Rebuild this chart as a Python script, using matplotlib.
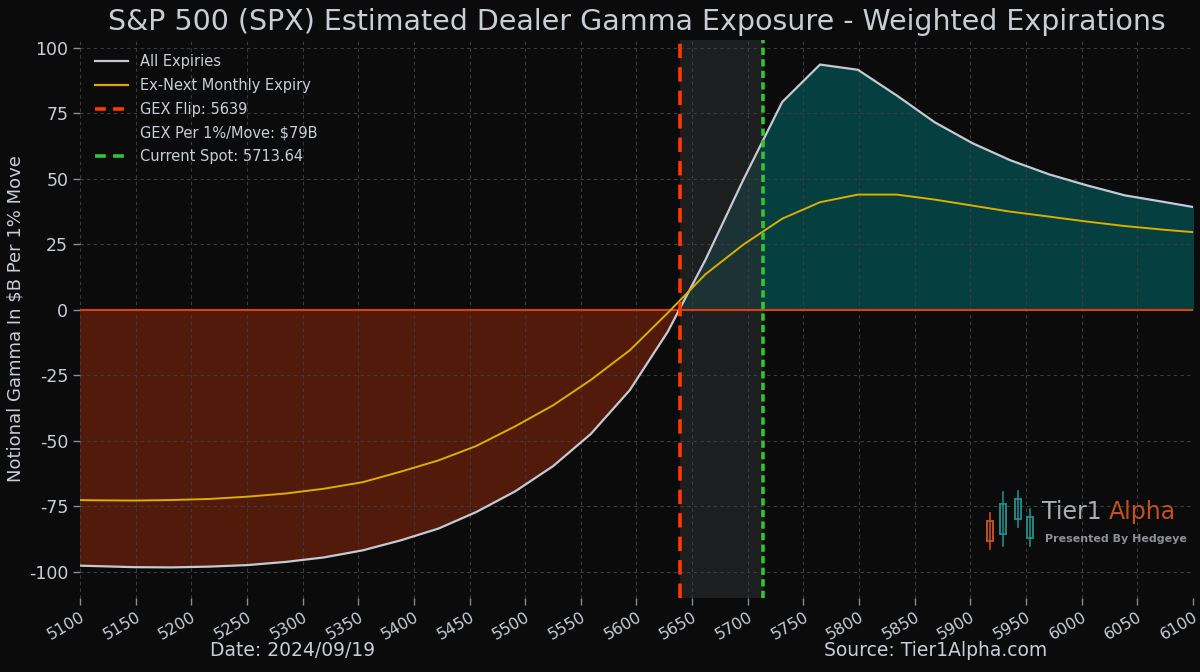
import numpy as np
import matplotlib
matplotlib.use("Agg")
import matplotlib.pyplot as plt
from matplotlib.lines import Line2D
from matplotlib.patches import Rectangle

# strikes and gamma values ($B per 1% move)
strikes = [5079, 5114, 5148, 5182, 5216, 5251, 5285, 5319, 5354, 5388,
           5422, 5456, 5491, 5525, 5559, 5594, 5628, 5662, 5696, 5731,
           5765, 5799, 5834, 5868, 5902, 5936, 5971, 6005, 6039, 6074, 6108]
all_expiries = [-97.4, -97.8, -98.2, -98.3, -98.0, -97.4, -96.2, -94.5, -91.8, -88.0,
                -83.5, -77.2, -69.3, -59.7, -47.4, -30.7, -8.5, 19.0, 49.5, 79.2,
                93.5, 91.5, 81.7, 71.5, 63.5, 57.0, 51.6, 47.4, 43.6, 41.1, 38.6]
ex_next_monthly = [-72.5, -72.7, -72.8, -72.6, -72.2, -71.3, -70.1, -68.3, -65.8, -61.8,
                   -57.5, -52.0, -44.5, -36.5, -26.8, -15.5, -1.3, 13.5, 24.8, 34.7,
                   41.0, 43.9, 43.9, 42.0, 39.7, 37.4, 35.5, 33.6, 31.9, 30.5, 29.3]

gex_flip = 5639
spot = 5713.64
gex_per_move = "$79B"
date_str = "2024/09/19"

x_ticks = list(range(5100, 6101, 50))
y_ticks = [-100, -75, -50, -25, 0, 25, 50, 75, 100]

bg = "#0b0b0b"
txt = "#c9cdd6"

plt.rcParams['axes.unicode_minus'] = False
plt.rcParams['font.family'] = ['DejaVu Sans']

fig = plt.figure(figsize=(12, 6.72), dpi=100, facecolor=bg)
ax = fig.add_axes([0.0667, 0.110, 0.9273, 0.831])
ax.set_facecolor(bg)

x = np.array(strikes, dtype=float)
y = np.array(all_expiries)

# fills under the all-expiries curve
ax.fill_between(x, 0, y, where=y < 0, interpolate=True, color="#521a0a", lw=0, zorder=1)
ax.fill_between(x, 0, y, where=y > 0, interpolate=True, color="#063f40", lw=0, zorder=1)

# zone between the flip and spot
ax.axvspan(gex_flip, spot, color="#2a2b2f", alpha=0.6, lw=0, zorder=1.5)

ax.axhline(0, color="#d9400f", lw=1.5, zorder=3)
ax.plot(x, y, color="#c4c9d2", lw=1.6, zorder=4)
ax.plot(x, ex_next_monthly, color="#dcae00", lw=1.4, zorder=4)
ax.axvline(gex_flip, color="#ff3a00", lw=2.6, ls=(0, (4, 2.5)), zorder=5)
ax.axvline(spot, color="#33c433", lw=2.6, ls=(0, (2, 1.2)), zorder=5)

ax.set_xlim(5100, 6100)
ax.set_ylim(-110, 103)
ax.set_xticks(x_ticks)
ax.set_yticks(y_ticks)
ax.set_xticklabels([str(t) for t in x_ticks], rotation=30, ha="right",
                   rotation_mode="anchor", fontsize=11.5, color=txt)
ax.set_yticklabels([str(t) for t in y_ticks], fontsize=12.5, color=txt)
ax.tick_params(axis="both", colors="#8a8d94", labelcolor=txt, length=5, width=1)
ax.tick_params(axis="x", pad=3)
for s in ax.spines.values():
    s.set_visible(False)

ax.set_axisbelow(False)
ax.grid(True, ls=(0, (3, 3)), color="#3c3c3c", lw=0.8, zorder=2)

ax.set_ylabel("Notional Gamma In $B Per 1% Move", fontsize=13, color=txt, labelpad=3)
ax.set_title("S&P 500 (SPX) Estimated Dealer Gamma Exposure - Weighted Expirations",
             fontsize=20.5, color=txt, pad=7)

handles = [
    Line2D([], [], color="#c4c9d2", lw=1.6),
    Line2D([], [], color="#e8a010", lw=1.6),
    Line2D([], [], color="#ff3a00", lw=2.6, ls=(0, (3, 2))),
    Line2D([], [], color="none"),
    Line2D([], [], color="#33c433", lw=2.6, ls=(0, (3, 2))),
]
labels = ["All Expiries", "Ex-Next Monthly Expiry", f"GEX Flip: {gex_flip}",
          f"GEX Per 1%/Move: {gex_per_move}", f"Current Spot: {spot:.2f}"]
leg = ax.legend(handles, labels, loc="upper left", frameon=False, fontsize=10.5,
                labelcolor=txt, handlelength=2.3, labelspacing=0.6,
                borderaxespad=0.6)
leg.set_zorder(6)

fig.text(0.244, 0.024, f"Date: {date_str}", fontsize=13.5, color=txt, ha="center")
fig.text(0.780, 0.024, "Source: Tier1Alpha.com", fontsize=13.5, color=txt, ha="center")

# logo
fig.text(0.868, 0.227, "Tier1", fontsize=17, color="#a9adb4")
fig.text(0.924, 0.227, "Alpha", fontsize=17, color="#c4501c")
fig.text(0.871, 0.193, "Presented By Hedgeye", fontsize=8, color="#8d9096",
         fontweight="bold")
for cx, cy, h, col in [(0.825, 0.210, 0.030, "#c4501c"), (0.836, 0.228, 0.045, "#1f8a86"),
                       (0.848, 0.243, 0.030, "#1f8a86"), (0.858, 0.215, 0.030, "#1f8a86")]:
    fig.add_artist(Line2D([cx, cx], [cy - h * 0.9, cy + h * 0.9], color=col, lw=1.2))
    fig.add_artist(Rectangle((cx - 0.0025, cy - h / 2), 0.005, h, fill=False,
                             edgecolor=col, lw=1.4))

fig.savefig("out.png", dpi=100, facecolor=bg)
